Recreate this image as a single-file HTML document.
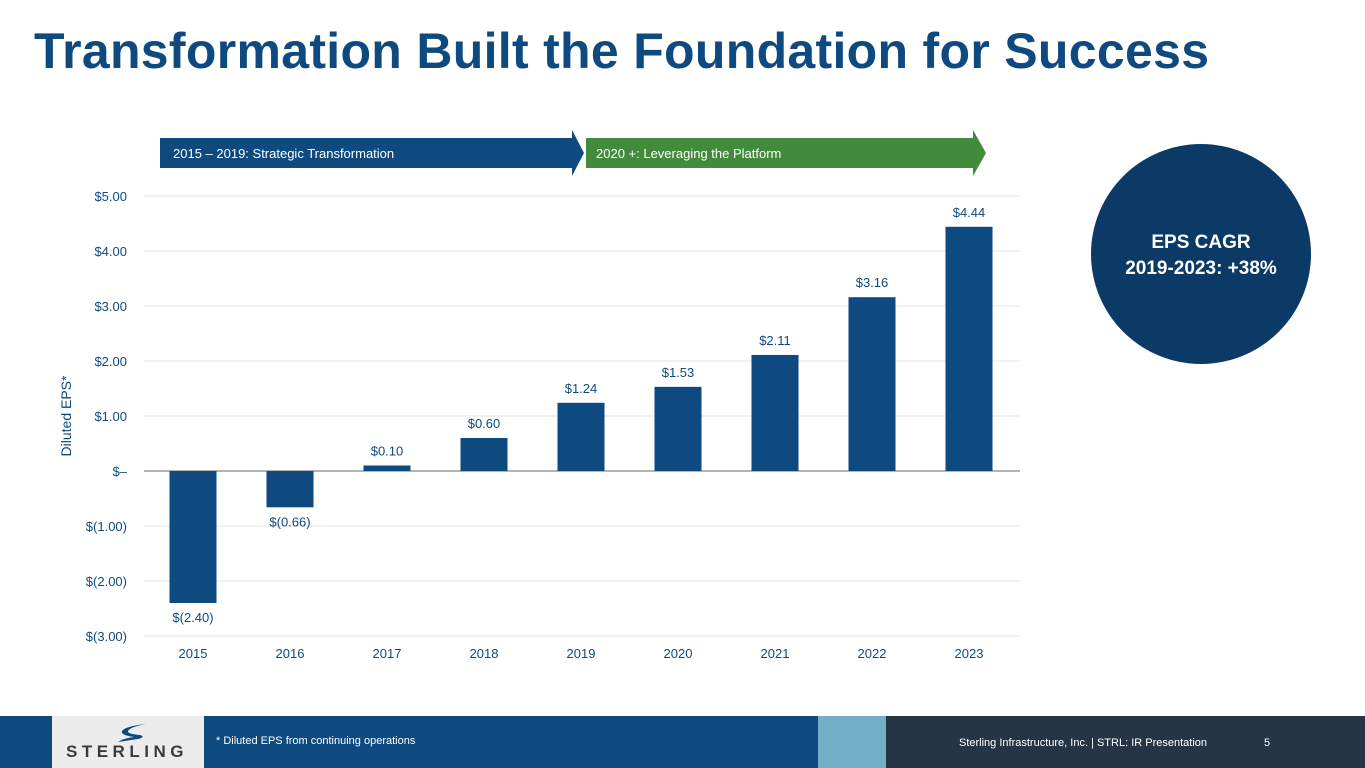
<!DOCTYPE html>
<html><head><meta charset="utf-8"><style>
body{margin:0;width:1365px;height:768px;overflow:hidden;background:#fff;font-family:"Liberation Sans",sans-serif;position:relative}
.title{position:absolute;left:34px;top:22px;font-size:50px;font-weight:bold;color:#0e4a80;letter-spacing:0.3px}
</style></head><body>
<div class="title">Transformation Built the Foundation for Success</div>
<svg width="1365" height="768" style="position:absolute;left:0;top:0">
<g>
<polygon points="160,138 572,138 572,130 584,153 572,176 572,168 160,168" fill="#0e4a80"/>
<text x="173" y="158" font-size="13" fill="#fff" font-family="Liberation Sans, sans-serif">2015 – 2019: Strategic Transformation</text>
<polygon points="586,138 973,138 973,130 986,153 973,176 973,168 586,168" fill="#428a3c"/>
<text x="596" y="158" font-size="13" fill="#fff" font-family="Liberation Sans, sans-serif">2020 +: Leveraging the Platform</text>
</g>
<g id="grid"></g><g id="bars"></g>
<text transform="translate(71,416) rotate(-90)" text-anchor="middle" font-size="14" fill="#0e4a80">Diluted EPS*</text>
<circle cx="1201" cy="254" r="110" fill="#0b3a66"/>
<text x="1201" y="248" text-anchor="middle" font-size="19" font-weight="bold" fill="#fff">EPS CAGR</text>
<text x="1201" y="274" text-anchor="middle" font-size="19" font-weight="bold" fill="#fff">2019-2023: +38%</text>
<g>
<rect x="0" y="716" width="1365" height="52" fill="#0e4a80"/>
<rect x="52" y="716" width="152" height="52" fill="#ececec"/>
<path d="M146,724 Q130,727 128,731 Q127,734 140,735 Q146,737 138,739 L118,742 Q124,738 134,737 Q120,735 122,731 Q126,726 146,724Z" fill="#0e4a80"/>
<text x="66" y="757" font-size="17" font-weight="bold" fill="#3b3b3b" letter-spacing="4.5">STERLING</text>
<text x="216" y="744" font-size="11" fill="#fff">* Diluted EPS from continuing operations</text>
<rect x="818" y="716" width="68" height="52" fill="#72aec8"/>
<rect x="886" y="716" width="479" height="52" fill="#263545"/>
<text x="959" y="746" font-size="11" fill="#fff">Sterling Infrastructure, Inc. | STRL:  IR Presentation</text>
<text x="1264" y="746" font-size="11" fill="#fff">5</text>
</g>
</svg>
<script>
const categories=["2015","2016","2017","2018","2019","2020","2021","2022","2023"];
const epsValues=[-2.40,-0.66,0.10,0.60,1.24,1.53,2.11,3.16,4.44];
const valueLabels=["$(2.40)","$(0.66)","$0.10","$0.60","$1.24","$1.53","$2.11","$3.16","$4.44"];
const tickValues=[5,4,3,2,1,0,-1,-2,-3];
const tickLabels=["$5.00","$4.00","$3.00","$2.00","$1.00","$–","$(1.00)","$(2.00)","$(3.00)"];
const NS="http://www.w3.org/2000/svg";
const y=v=>471-v*55;
const x=i=>193+i*97;
function mk(t,a,p){const e=document.createElementNS(NS,t);for(const k in a)e.setAttribute(k,a[k]);p.appendChild(e);return e;}
const grid=document.getElementById('grid'),bars=document.getElementById('bars');
tickValues.forEach((v,i)=>{
 const l=mk('line',{x1:144,x2:1020,y1:y(v),y2:y(v),stroke:v===0?'#6a6a6a':'#e3e3e3','stroke-width':1},grid);
 
 
 const t=mk('text',{x:127,y:y(v)+5,'text-anchor':'end','font-size':13,fill:'#0e4a80'},grid);
 t.textContent=tickLabels[i];
 
 
});
categories.forEach((c,i)=>{
 const v=epsValues[i];
 const r=mk('rect',{x:x(i)-23.5,width:47,y:Math.min(y(v),y(0)),height:Math.abs(y(v)-y(0)),fill:'#0e4a80'},bars);
 
 
 const lbl=mk('text',{x:x(i),y:v>=0?y(v)-10:y(v)+19,'text-anchor':'middle','font-size':13,fill:'#0e4a80'},bars);
 lbl.textContent=valueLabels[i];
 
 
 const xl=mk('text',{x:x(i),y:658,'text-anchor':'middle','font-size':13,fill:'#0e4a80'},bars);
 xl.textContent=c;
 
 
});
</script>
</body></html>
